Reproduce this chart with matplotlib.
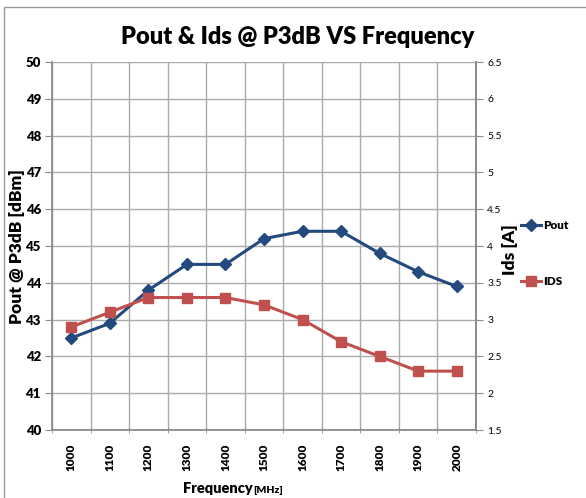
import matplotlib
matplotlib.use("Agg")
import matplotlib.pyplot as plt
from matplotlib.patches import Rectangle
import numpy as np

freqs = ["1000", "1100", "1200", "1300", "1400", "1500", "1600", "1700", "1800", "1900", "2000"]
pout = [42.5, 42.9, 43.8, 44.5, 44.5, 45.2, 45.4, 45.4, 44.8, 44.3, 43.9]
ids = [2.9, 3.1, 3.3, 3.3, 3.3, 3.2, 3.0, 2.7, 2.5, 2.3, 2.3]
left_ticks = [40, 41, 42, 43, 44, 45, 46, 47, 48, 49, 50]
right_ticks = [1.5, 2, 2.5, 3, 3.5, 4, 4.5, 5, 5.5, 6, 6.5]

FONT = "Lato"
blue = "#234A7E"
red = "#C0504D"
grid_c = "#ababab"
axis_c = "#8c8c8c"

W, H = 586, 498
fig = plt.figure(figsize=(W / 100, H / 100), dpi=100)
fig.patches.append(Rectangle((4 / W, -0.1), 1.2, 1 - 7 / H + 0.1, transform=fig.transFigure,
                             fill=False, edgecolor="#999999", linewidth=1.0))

ax = fig.add_axes([52 / W, 1 - 430 / H, (476 - 52) / W, (430 - 62) / H])
x = np.arange(len(freqs))
ax.set_xlim(-0.5, len(freqs) - 0.5)
ax.set_ylim(40, 50)
ax.set_yticks(left_ticks)
ax.set_yticklabels([str(t) for t in left_ticks], fontfamily=FONT, fontweight="heavy", fontsize=9.5)
ax.set_xticks(x)
ax.set_xticklabels(freqs, rotation=90, fontfamily=FONT, fontweight="heavy", fontsize=8.5)
ax.set_xticks(np.arange(-0.5, len(freqs)), minor=True)
ax.tick_params(axis="x", which="major", length=0, pad=10)
ax.tick_params(axis="x", which="minor", length=5, direction="inout", color=axis_c)
ax.tick_params(axis="y", length=5, direction="out", color=axis_c, pad=3)
ax.grid(True, axis="y", color=grid_c, linewidth=1.0)
ax.grid(True, axis="x", which="minor", color=grid_c, linewidth=1.0)
for s in ["left", "bottom", "right"]:
    ax.spines[s].set_color(axis_c)
    ax.spines[s].set_linewidth(1.3)
ax.spines["top"].set_visible(False)
ax.set_axisbelow(True)

ax2 = ax.twinx()
ax2.set_ylim(1.5, 6.5)
ax2.set_yticks(right_ticks)
ax2.set_yticklabels(["%g" % t for t in right_ticks], fontfamily=FONT, fontsize=7.5)
ax2.tick_params(axis="y", length=5, direction="out", color=axis_c, pad=3)
for s in ["left", "bottom", "top"]:
    ax2.spines[s].set_visible(False)
ax2.spines["right"].set_color(axis_c)
ax2.spines["right"].set_linewidth(1.3)

l1, = ax.plot(x, pout, color=blue, linewidth=2.2, marker="D", markersize=6, label="Pout", zorder=3)
l2, = ax2.plot(x, ids, color=red, linewidth=2.2, marker="s", markersize=7.5, label="IDS", zorder=3)

fig.text(298 / W, 1 - 37 / H, "Pout & Ids @ P3dB VS Frequency", ha="center", va="center",
         fontfamily=FONT, fontweight="heavy", fontsize=17)
fig.text(17 / W, 1 - 247 / H, "Pout @ P3dB [dBm]", rotation=90, ha="center", va="center",
         fontfamily=FONT, fontweight="heavy", fontsize=12.5)
fig.text(510 / W, 1 - 250 / H, "Ids [A]", rotation=90, ha="center", va="center",
         fontfamily=FONT, fontweight="heavy", fontsize=12.5)
fig.text(253 / W, 1 - 493 / H, "Frequency", ha="right", va="baseline",
         fontfamily=FONT, fontweight="heavy", fontsize=10.5)
fig.text(253 / W, 1 - 493 / H, "[MHz]", ha="left", va="baseline",
         fontfamily=FONT, fontweight="heavy", fontsize=7.5)

fig.legend(handles=[l1, l2], loc="upper left", bbox_to_anchor=(515 / W, 1 - 214 / H),
           frameon=False, labelspacing=3.8, handlelength=1.7, handletextpad=0.2,
           prop={"family": FONT, "weight": "heavy", "size": 8.5}, borderpad=0)

fig.savefig("out.png", dpi=100)
